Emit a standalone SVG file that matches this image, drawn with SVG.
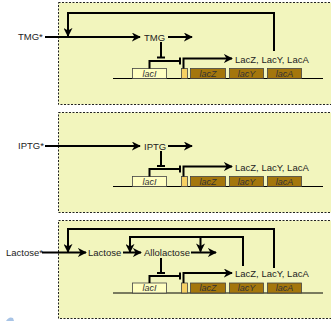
<svg xmlns="http://www.w3.org/2000/svg" width="331" height="321" viewBox="0 0 331 321">
<defs>
<marker id="ah" viewBox="0 0 10 10" refX="9" refY="5" markerWidth="4.5" markerHeight="4.5" orient="auto" markerUnits="strokeWidth">
<path d="M0,0 L10,5 L0,10 L3,5 Z" fill="#000"/>
</marker>
</defs>
<style>
.panel{fill:#f2f5bd;stroke:#222;stroke-width:1;stroke-dasharray:2,1.5}
.ln{fill:none;stroke:#000;stroke-width:2}
.arr{fill:none;stroke:#000;stroke-width:2;marker-end:url(#ah)}
.thin{fill:none;stroke:#000;stroke-width:1}
.t{font-family:"Liberation Sans",Arial,sans-serif;font-size:9.5px;fill:#222;dominant-baseline:central}
.g{font-family:"Liberation Sans",Arial,sans-serif;font-size:9px;font-style:italic;fill:#333;text-anchor:middle;dominant-baseline:central}
.laci{fill:#ffffc2;stroke:#444;stroke-width:0.8}
.prom{fill:#f6d064;stroke:#444;stroke-width:0.8}
.gene{fill:#a4760c;stroke:#444;stroke-width:0.8}
</style>

<rect class="panel" x="58.5" y="2.5" width="280" height="102"/>
<rect class="panel" x="58.5" y="112.5" width="280" height="100"/>
<rect class="panel" x="58.5" y="220.5" width="280" height="98"/>

<path d="M6,321 Q9,316 13,318 L14,321 Z" fill="#a8c4e6"/>

<!-- Panel 1 -->
<g id="tmg-star"><text class="t" x="18" y="36">TMG*</text></g>
<g id="tmg"><text class="t" x="144" y="37">TMG</text></g>
<g id="lacz-y-a-1"><text class="t" x="235" y="59">LacZ, LacY, LacA</text></g>
<g id="operon1">
<line class="thin" x1="113" y1="78.5" x2="323" y2="78.5"/>
<rect class="laci" x="132.5" y="68.5" width="34" height="10"/>
<text class="g" x="149.5" y="73.5">lacI</text>
<rect class="prom" x="181.5" y="68.5" width="6" height="10"/>
<rect class="gene" x="190.5" y="68.5" width="35" height="10"/>
<text class="g" x="208" y="73.5">lacZ</text>
<rect class="gene" x="229.5" y="68.5" width="34" height="10"/>
<text class="g" x="246.5" y="73.5">lacY</text>
<rect class="gene" x="267.5" y="68.5" width="34" height="10"/>
<text class="g" x="284.5" y="73.5">lacA</text>
</g>

<!-- Panel 2 -->
<g id="iptg-star"><text class="t" x="18" y="145">IPTG*</text></g>
<g id="iptg"><text class="t" x="144" y="146">IPTG</text></g>
<g id="lacz-y-a-2"><text class="t" x="235" y="167">LacZ, LacY, LacA</text></g>
<g id="operon2">
<line class="thin" x1="113" y1="186.5" x2="323" y2="186.5"/>
<rect class="laci" x="132.5" y="176.5" width="34" height="10"/>
<text class="g" x="149.5" y="181.5">lacI</text>
<rect class="prom" x="181.5" y="176.5" width="6" height="10"/>
<rect class="gene" x="190.5" y="176.5" width="35" height="10"/>
<text class="g" x="208" y="181.5">lacZ</text>
<rect class="gene" x="229.5" y="176.5" width="34" height="10"/>
<text class="g" x="246.5" y="181.5">lacY</text>
<rect class="gene" x="267.5" y="176.5" width="34" height="10"/>
<text class="g" x="284.5" y="181.5">lacA</text>
</g>

<!-- Panel 3 -->
<g id="lactose-star"><text class="t" x="6" y="252.5">Lactose*</text></g>
<g id="lactose"><text class="t" x="88" y="252.5">Lactose</text></g>
<g id="allolactose"><text class="t" x="144" y="252.5">Allolactose</text></g>
<g id="lacz-y-a-3"><text class="t" x="235" y="273.5">LacZ, LacY, LacA</text></g>
<g id="operon3">
<line class="thin" x1="113" y1="293" x2="323" y2="293"/>
<rect class="laci" x="132.5" y="283" width="34" height="10"/>
<text class="g" x="149.5" y="288">lacI</text>
<rect class="prom" x="181.5" y="283" width="6" height="10"/>
<rect class="gene" x="190.5" y="283" width="35" height="10"/>
<text class="g" x="208" y="288">lacZ</text>
<rect class="gene" x="229.5" y="283" width="34" height="10"/>
<text class="g" x="246.5" y="288">lacY</text>
<rect class="gene" x="267.5" y="283" width="34" height="10"/>
<text class="g" x="284.5" y="288">lacA</text>
</g>

<g id="connectors">
<!-- panel 1 -->
<path class="arr" d="M45,37 L140,37"/>
<path class="arr" d="M168,37 L192,37"/>
<path class="arr" d="M274,51 L274,13 L68,13 L68,36"/>
<path class="ln" d="M161,42 L161,57.5"/>
<path class="ln" d="M157,57.5 L165,57.5"/>
<path class="ln" d="M149.5,68.5 L149.5,61 L180,61"/>
<path class="ln" d="M180,57.5 L180,64.5"/>
<path class="arr" d="M183.5,68.5 L183.5,58.5 L232,58.5"/>
<!-- panel 2 -->
<path class="arr" d="M45,146 L140,146"/>
<path class="arr" d="M168,146 L192,146"/>
<path class="ln" d="M161,151 L161,166"/>
<path class="ln" d="M157,166 L165,166"/>
<path class="ln" d="M149.5,176.5 L149.5,169 L180,169"/>
<path class="ln" d="M180,165.5 L180,172.5"/>
<path class="arr" d="M183.5,176.5 L183.5,166.5 L232,166.5"/>
<!-- panel 3 -->
<path class="arr" d="M42,252.5 L86,252.5"/>
<path class="arr" d="M123,252.5 L141,252.5"/>
<path class="arr" d="M191,252.5 L216,252.5"/>
<path class="arr" d="M274,268 L274,229 L68,229 L68,252"/>
<path class="arr" d="M243,266 L243,237 L130,237 L130,252"/>
<path class="arr" d="M200.5,237 L200.5,251.5"/>
<path class="ln" d="M161,258 L161,273"/>
<path class="ln" d="M157,273 L165,273"/>
<path class="ln" d="M149.5,283 L149.5,276 L180,276"/>
<path class="ln" d="M180,272.5 L180,279.5"/>
<path class="arr" d="M183.5,283 L183.5,273 L232,273"/>
</g>
</svg>
